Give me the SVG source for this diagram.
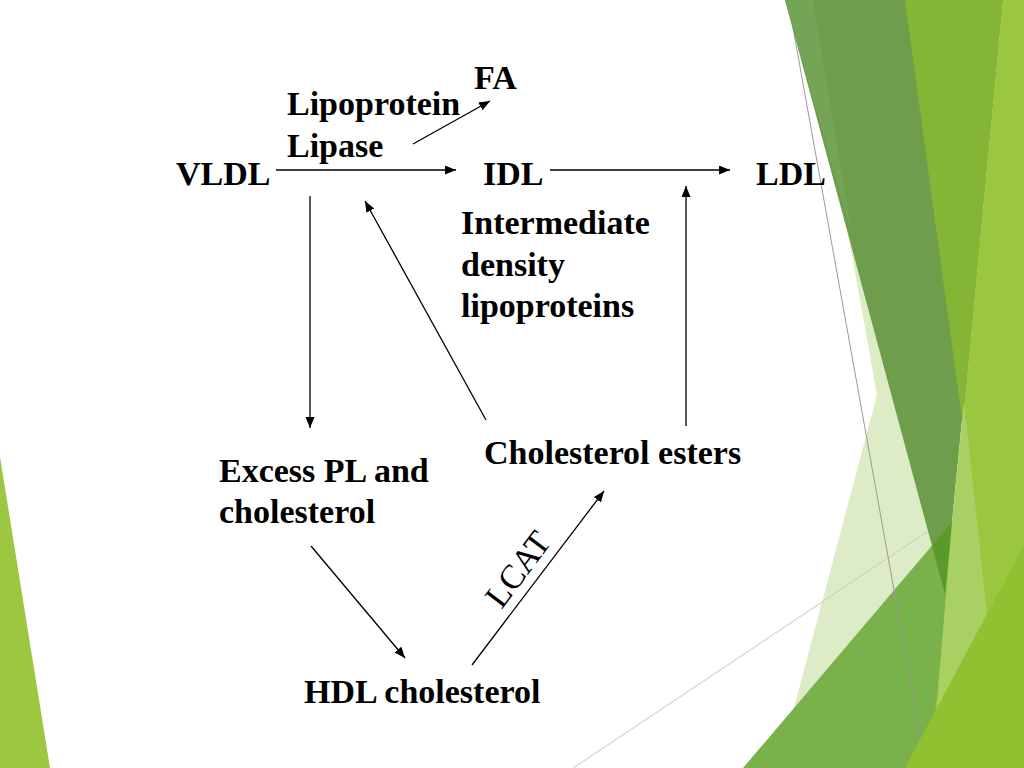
<svg xmlns="http://www.w3.org/2000/svg" width="1024" height="768" viewBox="0 0 1024 768">
<style>
.t{font-family:"Liberation Serif","Times New Roman",serif;font-weight:bold;font-size:34px;fill:#000}
.r{font-family:"Liberation Serif","Times New Roman",serif;font-weight:normal;font-size:34px;fill:#000}
.c{stroke:#000;stroke-width:1.3;fill:none;marker-end:url(#ah)}
</style>
<defs>
<marker id="ah" markerUnits="userSpaceOnUse" markerWidth="12" markerHeight="10" refX="11" refY="4.5" orient="auto">
<path d="M0,0 L11,4.5 L0,9 Z" fill="#000"/>
</marker>
</defs>
<rect width="1024" height="768" fill="#fff"/>
<g id="background">
<polygon points="0,457 50,768 0,768" fill="#9DC641"/>
<polygon points="848,233 877,395 778,768 930,768 946,594" fill="#DDEBC7"/>
<line x1="573" y1="768" x2="960" y2="510" stroke="#C8C8C8" stroke-width="1"/>
<polygon points="743,768 952,522 960,768" fill="#79B14B"/>
<line x1="788" y1="0" x2="926" y2="768" stroke="#9A9A9A" stroke-width="1"/>
<polygon points="785,0 1003,0 945,594" fill="#6E9E4B"/>
<polygon points="785,0 813,0 852,235" fill="#75A456"/>
<polygon points="932,546 952,522 945,594" fill="#5A9A2A"/>
<polygon points="905,0 1003,0 963,426" fill="#85B535"/>
<polygon points="1003,0 1024,0 1024,768 930,768" fill="#9BC63F"/>
<polygon points="964,400 987,614 937,708 946,594 952,522" fill="#A8D062"/>
<polygon points="905,768 1024,545 1024,768" fill="#8FC131"/>
</g>
<g id="connectors">
<line class="c" x1="276" y1="170" x2="456" y2="170"/>
<line class="c" x1="413" y1="144" x2="490" y2="101"/>
<line class="c" x1="550" y1="170" x2="730" y2="170"/>
<line class="c" x1="310" y1="196" x2="310" y2="428"/>
<line class="c" x1="486" y1="420" x2="365" y2="201"/>
<line class="c" x1="686" y1="426" x2="686" y2="186"/>
<line class="c" x1="311" y1="546" x2="405" y2="658"/>
<line class="c" x1="472" y1="665" x2="604" y2="491"/>
</g>
<g id="node-fa"><text class="t" x="474" y="89">FA</text></g>
<g id="label-lpl"><text class="t" x="287" y="115">Lipoprotein</text><text class="t" x="287" y="157">Lipase</text></g>
<g id="node-vldl"><text class="t" x="176" y="185">VLDL</text></g>
<g id="node-idl"><text class="t" x="483" y="185">IDL</text></g>
<g id="node-ldl"><text class="t" x="756" y="185">LDL</text></g>
<g id="label-idl"><text class="t" x="461" y="234">Intermediate</text><text class="t" x="461" y="276">density</text><text class="t" x="461" y="317">lipoproteins</text></g>
<g id="node-ce"><text class="t" x="484" y="464">Cholesterol esters</text></g>
<g id="node-excess"><text class="t" x="219" y="482">Excess PL and</text><text class="t" x="219" y="523">cholesterol</text></g>
<g id="node-hdl"><text class="t" x="304" y="703">HDL cholesterol</text></g>
<g id="label-lcat"><text class="r" text-anchor="middle" transform="translate(527,576) rotate(-53)">LCAT</text></g>
</svg>
